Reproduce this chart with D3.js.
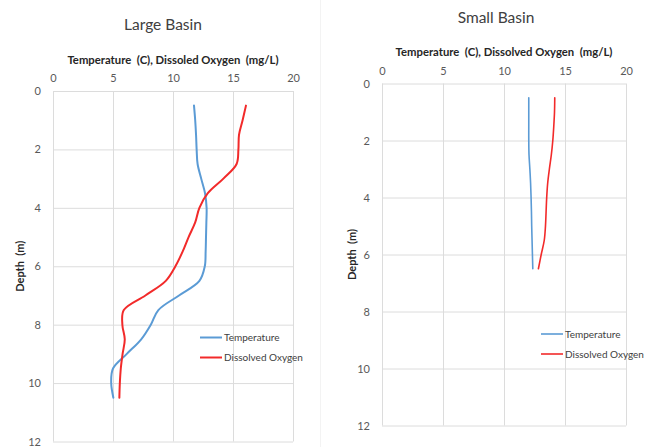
<!DOCTYPE html>
<html>
<head>
<meta charset="utf-8">
<script src="https://cdn.jsdelivr.net/npm/d3@7"></script>
<style>
  html, body { margin: 0; padding: 0; background: #fff; }
  svg { display: block; font-family: Lato, "Open Sans", sans-serif; }
  .pre { white-space: pre; }
</style>
</head>
<body>
<svg id="chart" width="658" height="447"></svg>
<script>
// Depth profiles sampled every 0.5 m
const largeDepths = [0.5, 1, 1.5, 2, 2.5, 3, 3.5, 4, 4.5, 5, 5.5, 6, 6.5, 7, 7.5, 8, 8.5, 9, 9.5, 10, 10.5];
const largeTemperature = [11.75, 11.85, 11.92, 11.97, 12.05, 12.35, 12.67, 12.8, 12.78, 12.75, 12.72, 12.65, 12.2, 10.5, 8.78, 8.15, 7.35, 6.15, 5.0, 4.85, 5.03];
const largeOxygen = [16.08, 15.8, 15.5, 15.45, 15.3, 14.2, 12.9, 12.2, 11.85, 11.3, 10.8, 10.2, 9.4, 7.7, 5.9, 5.78, 5.98, 5.8, 5.65, 5.57, 5.53];

const smallDepths = [0.5, 1, 1.5, 2, 2.5, 3, 3.5, 4, 4.5, 5, 5.5, 6, 6.5];
const smallTemperature = [12.03, 12.03, 12.03, 12.03, 12.05, 12.12, 12.18, 12.22, 12.25, 12.27, 12.3, 12.33, 12.36];
const smallOxygen = [14.16, 14.14, 14.08, 14.0, 13.88, 13.72, 13.58, 13.5, 13.45, 13.4, 13.3, 13.05, 12.82];

const valueTicks = [0, 5, 10, 15, 20];
const depthTicks = [0, 2, 4, 6, 8, 10, 12];
const seriesNames = ["Temperature", "Dissolved Oxygen"];
const seriesColors = ["#5b9bd5", "#f22a2a"];

const svg = d3.select("#chart");

// faint frame of the left chart
svg.append("line").attr("x1", 320.5).attr("x2", 320.5).attr("y1", 0).attr("y2", 447)
  .attr("stroke", "#f3f3f3").attr("stroke-width", 1);

const panels = [
  {
    title: "Large Basin", titleX: 163, titleY: 30,
    axisTitle: "Temperature  (C), Dissoled Oxygen  (mg/L)", axisTitleY: 64,
    left: 53, right: 293, top: 91, bottom: 441.5,
    depthLabelX: 24,
    depths: largeDepths, series: [largeTemperature, largeOxygen], lineWidth: 2,
    legendX: 200, legendY: 337.5
  },
  {
    title: "Small Basin", titleX: 496, titleY: 23,
    axisTitle: "Temperature  (C), Dissolved Oxygen  (mg/L)", axisTitleY: 56,
    left: 382, right: 626, top: 83.5, bottom: 425.5,
    depthLabelX: 356,
    depths: smallDepths, series: [smallTemperature, smallOxygen], lineWidth: 1.6,
    legendX: 541, legendY: 334
  }
];

panels.forEach(p => {
  const x = d3.scaleLinear().domain([0, 20]).range([p.left, p.right]);
  const y = d3.scaleLinear().domain([0, 12]).range([p.top, p.bottom]);
  const g = svg.append("g");

  // grid
  const vx = d3.axisTop(x).tickValues(valueTicks).tickSize(-(p.bottom - p.top)).tickFormat("");
  g.append("g").attr("transform", `translate(0,${p.top})`).call(vx)
    .call(a => a.select(".domain").remove())
    .call(a => a.selectAll("line").attr("stroke", "#dcdcdc"));
  const hy = d3.axisLeft(y).tickValues(depthTicks).tickSize(-(p.right - p.left)).tickFormat("");
  g.append("g").attr("transform", `translate(${p.left},0)`).call(hy)
    .call(a => a.select(".domain").remove())
    .call(a => a.selectAll("line").attr("stroke", "#dcdcdc"));

  // tick labels
  const xl = d3.axisTop(x).tickValues(valueTicks).tickSize(0).tickPadding(9);
  g.append("g").attr("transform", `translate(0,${p.top})`).call(xl)
    .call(a => a.select(".domain").remove())
    .call(a => a.selectAll("text").attr("fill", "#595959").style("font-size", "11px").style("font-family", "Lato"));
  const yl = d3.axisLeft(y).tickValues(depthTicks).tickSize(0).tickPadding(12);
  g.append("g").attr("transform", `translate(${p.left},0)`).call(yl)
    .call(a => a.select(".domain").remove())
    .call(a => a.selectAll("text").attr("fill", "#595959").style("font-size", "11px").style("font-family", "Lato"));

  // titles
  g.append("text").attr("x", p.titleX).attr("y", p.titleY).attr("text-anchor", "middle")
    .attr("fill", "#404040").style("font-size", "15.5px").text(p.title);
  g.append("text").attr("class", "pre").attr("x", (p.left + p.right) / 2).attr("y", p.axisTitleY).attr("text-anchor", "middle")
    .attr("fill", "#262626").style("font-size", "11.3px").style("font-weight", "bold").text(p.axisTitle);
  g.append("text").attr("class", "pre").attr("transform", `translate(${p.depthLabelX},${(p.top + p.bottom) / 2}) rotate(-90)`)
    .attr("text-anchor", "middle").attr("fill", "#262626").style("font-size", "11px").style("font-weight", "bold")
    .text("Depth  (m)");

  // profiles: value on x, depth on y
  p.series.forEach((vals, i) => {
    const pts = p.depths.map((d, k) => [vals[k], d]);
    const line = d3.line().x(d => x(d[0])).y(d => y(d[1])).curve(d3.curveCatmullRom.alpha(0.5));
    g.append("path").datum(pts).attr("d", line).attr("fill", "none")
      .attr("stroke", seriesColors[i]).attr("stroke-width", p.lineWidth).attr("stroke-linecap", "round");
  });

  // legend
  seriesNames.forEach((name, i) => {
    const ly = p.legendY + i * 20;
    g.append("line").attr("x1", p.legendX).attr("x2", p.legendX + 22).attr("y1", ly).attr("y2", ly)
      .attr("stroke", seriesColors[i]).attr("stroke-width", p.lineWidth);
    g.append("text").attr("x", p.legendX + 24).attr("y", ly + 3.5).attr("fill", "#404040")
      .style("font-size", "10px").text(name);
  });
});
</script>
</body>
</html>
